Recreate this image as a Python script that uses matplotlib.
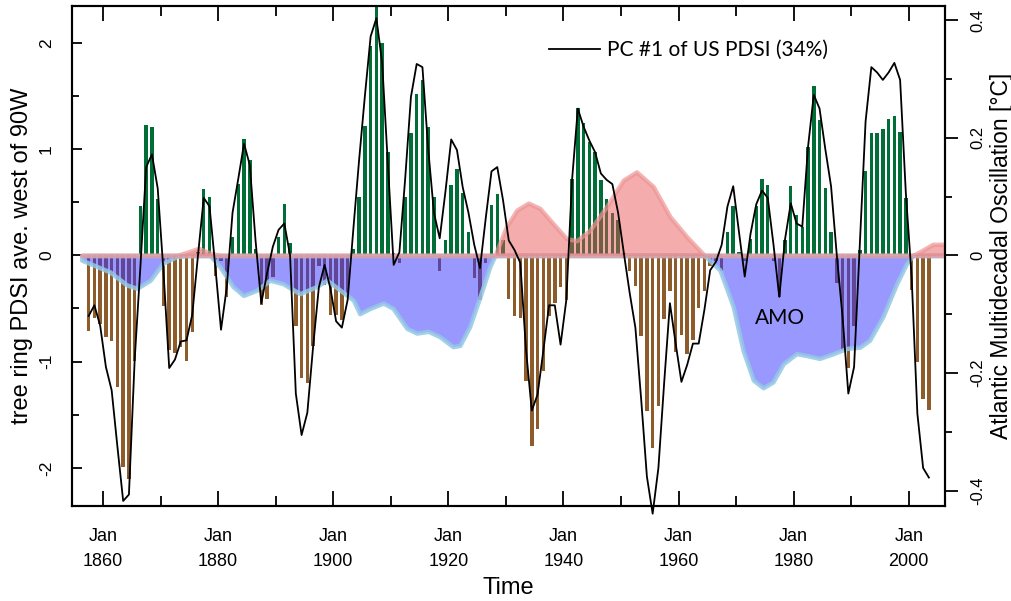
import numpy as np
import matplotlib
matplotlib.use("Agg")
import matplotlib.pyplot as plt

# Annual tree-ring PDSI (bars) and PC #1 of US PDSI (line), 1857-2003
years = np.arange(1857, 2004)
pdsi = np.array([
    -0.71, -0.59, -0.65, -0.77, -0.81, -1.24, -1.99, -2.10, -0.99, 0.46,   # 1857-1866
    1.23, 1.21, 0.53, -0.48, -0.89, -0.92, -0.86, -0.99, -0.72, 0.03,      # 1867-1876
    0.62, 0.55, -0.19, -0.05, -0.39, 0.17, 0.67, 1.09, 0.90, 0.06,         # 1877-1886
    -0.47, -0.41, -0.20, 0.17, 0.48, 0.12, -0.66, -1.15, -1.20, -0.85,     # 1887-1896
    -0.10, -0.28, -0.56, -0.56, -0.61, -0.39, 0.06, 0.55, 1.22, 1.97,      # 1897-1906
    2.40, 2.00, 0.97, 0.02, -0.07, 0.55, 1.15, 1.52, 1.65, 1.21,           # 1907-1916
    0.55, -0.15, 0.14, 0.66, 0.81, 0.59, 0.22, -0.21, -0.42, -0.07,        # 1917-1926
    0.47, 0.58, 0.14, -0.41, -0.57, -0.59, -1.18, -1.79, -1.63, -1.09,     # 1927-1936
    -0.57, -0.45, -0.30, -0.42, 0.72, 1.39, 1.24, 1.07, 0.97, 0.71,        # 1937-1946
    0.53, 0.40, 0.33, 0.02, -0.15, -0.29, -0.76, -1.46, -1.81, -1.42,      # 1947-1956
    -0.60, -0.34, -0.91, -0.75, -0.93, -0.80, -0.50, -0.34, -0.10, -0.05,  # 1957-1966
    -0.15, 0.22, 0.46, 0.03, -0.05, 0.15, 0.46, 0.72, 0.66, -0.05,         # 1967-1976
    -0.39, 0.14, 0.65, 0.38, 0.27, 1.02, 1.59, 1.27, 0.63, 0.22,           # 1977-1986
    -0.26, -0.89, -1.06, -0.66, 0.05, 0.79, 1.15, 1.15, 1.19, 1.28,        # 1987-1996
    1.31, 1.16, 0.54, -0.33, -1.00, -1.35, -1.45,                          # 1997-2003
])
pc1 = np.array([
    -0.57, -0.47, -0.66, -1.05, -1.27, -1.80, -2.31, -2.25, -0.98, -0.10,
    0.83, 0.95, 0.63, -0.15, -1.06, -0.98, -0.81, -0.80, -0.56, 0.00,
    0.54, 0.46, -0.10, -0.70, -0.30, 0.40, 0.72, 1.05, 0.85, 0.14,
    -0.45, -0.17, 0.08, 0.24, 0.30, 0.00, -1.30, -1.69, -1.48, -0.86,
    -0.30, -0.09, -0.31, -0.62, -0.68, -0.42, 0.25, 0.90, 1.50, 2.06,
    2.23, 1.81, 0.85, -0.09, 0.03, 0.72, 1.49, 1.80, 1.77, 1.00,
    0.40, 0.16, 0.60, 1.09, 0.99, 0.64, 0.40, 0.10, -0.12, 0.35,
    0.79, 0.83, 0.52, 0.14, 0.05, -0.07, -0.89, -1.46, -1.31, -0.90,
    -0.47, -0.47, -0.84, -0.42, 0.71, 1.38, 1.21, 1.08, 0.97, 0.77,
    0.71, 0.67, 0.40, 0.02, -0.35, -0.68, -1.35, -2.08, -2.43, -2.00,
    -1.20, -0.45, -0.83, -1.19, -1.03, -0.83, -0.83, -0.51, -0.14, -0.06,
    0.10, 0.46, 0.65, 0.22, -0.20, 0.20, 0.48, 0.61, 0.54, 0.10,
    -0.39, 0.15, 0.49, 0.30, 0.27, 1.02, 1.51, 1.38, 1.00, 0.65,
    0.00, -0.58, -1.30, -1.05, 0.10, 1.26, 1.77, 1.72, 1.65, 1.72,
    1.81, 1.65, 0.58, -0.20, -1.49, -2.00, -2.09,
])

# smoothed AMO (deg C)
amo_years = np.array([
    1856.3, 1861.2, 1864.1, 1865.9, 1868.2, 1870.4, 1872.8, 1874.5, 1876.6, 1878.6,
    1880.3, 1882.6, 1884.4, 1886.7, 1889.0, 1891.3, 1894.2, 1897.1, 1898.9, 1901.2,
    1903.5, 1904.6, 1906.4, 1908.7, 1910.4, 1912.8, 1914.5, 1916.5, 1918.5, 1920.8,
    1922.0, 1923.7, 1925.5, 1927.2, 1928.1, 1930.1, 1931.9, 1933.9, 1935.9, 1938.2,
    1940.5, 1942.3, 1944.6, 1947.5, 1950.4, 1952.7, 1955.6, 1958.5, 1961.4, 1964.5,
    1967.2, 1969.5, 1971.2, 1973.0, 1974.7, 1976.4, 1978.2, 1980.5, 1982.2, 1984.5,
    1986.9, 1989.2, 1991.5, 1993.2, 1995.5, 1997.9, 1999.6, 2000.7, 2001.9, 2004.2,
    2006.3,
])
amo = np.array([
    -0.008, -0.028, -0.050, -0.056, -0.042, -0.013, -0.002, 0.005, 0.012, 0.004,
    -0.019, -0.053, -0.068, -0.059, -0.042, -0.048, -0.065, -0.053, -0.042, -0.059,
    -0.076, -0.099, -0.090, -0.081, -0.090, -0.124, -0.132, -0.129, -0.138, -0.155,
    -0.153, -0.121, -0.070, -0.019, 0.000, 0.049, 0.077, 0.089, 0.080, 0.054,
    0.029, 0.025, 0.043, 0.083, 0.128, 0.142, 0.117, 0.066, 0.032, 0.000,
    -0.025, -0.087, -0.161, -0.212, -0.225, -0.215, -0.184, -0.167, -0.170, -0.175,
    -0.167, -0.158, -0.156, -0.144, -0.104, -0.048, -0.014, 0.000, 0.006, 0.019,
    0.019,
])

major_years = np.arange(1860, 2001, 20)
minor_years = np.arange(1870, 2001, 20)
left_ticks = [-2, -1, 0, 1, 2]
right_ticks = [-0.4, -0.2, 0, 0.2, 0.4]
right_labels = ["-0.4", "-0.2", "0", "0.2", "0.4"]

green = "#006e36"
brown = "#8e5b2b"
sans = ["Liberation Sans", "DejaVu Sans"]
myriad = ["Lato", "DejaVu Sans"]

fig = plt.figure(figsize=(10.12, 6.01), dpi=100)
ax = fig.add_axes([0.0711, 0.158, 0.8627, 0.832])

mid = years + 0.5
ax.bar(mid, pdsi, width=0.6, color=np.where(pdsi >= 0, green, brown), linewidth=0)

ax.set_xlim(1854.6, 2006.3)
ax.set_ylim(-2.358, 2.345)

ax2 = ax.twinx()
ax2.set_ylim(-0.426, 0.424)
ax2.fill_between(amo_years, np.minimum(amo, 0), 0, facecolor=(0.2, 0.2, 1.0, 0.5),
                 edgecolor=(0.58, 0.78, 0.9, 0.85), linewidth=3.2)
ax2.fill_between(amo_years, 0, np.maximum(amo, 0), facecolor=(0.92, 0.32, 0.32, 0.48),
                 edgecolor=(0.93, 0.58, 0.58, 0.7), linewidth=3.2)
ax2.plot(mid, pc1, transform=ax.transData, color="black", lw=1.3, clip_on=False,
         label="PC #1 of US PDSI (34%)")
ax2.text(1977.6, -0.107, "AMO", ha="center", va="center", fontsize=15, family=myriad)

leg = ax2.legend(loc="center left", bbox_to_anchor=(549 / 1012, 1 - 50 / 601),
                 bbox_transform=fig.transFigure, frameon=False, borderpad=0,
                 borderaxespad=0, handlelength=2.45, handletextpad=0.34,
                 prop={"family": myriad, "size": 15})

# x axis
ax.set_xticks(major_years)
ax.set_xticklabels([f"Jan\n{y}" for y in major_years], family=sans, fontsize=13,
                   linespacing=1.6)
ax.set_xticks(minor_years, minor=True)
ax.tick_params(axis="x", which="both", direction="in", top=True, bottom=True,
               width=1.3, pad=16)
ax.tick_params(axis="x", which="major", length=11)
ax.tick_params(axis="x", which="minor", length=7)
ax.set_xlabel("Time", family=sans, fontsize=17, labelpad=5)

# left axis
ax.set_yticks(left_ticks)
ax.set_yticklabels([str(v) for v in left_ticks], family=sans, fontsize=12.5,
                   rotation=90, va="center")
ax.set_yticks([-1.5, -0.5, 0.5, 1.5], minor=True)
ax.tick_params(axis="y", which="both", direction="in", width=1.3, pad=13)
ax.tick_params(axis="y", which="major", length=7.5)
ax.tick_params(axis="y", which="minor", length=5)
ax.set_ylabel("tree ring PDSI ave. west of 90W", family=sans, fontsize=17, labelpad=4)

# right axis
ax2.set_yticks(right_ticks)
ax2.set_yticklabels(right_labels, family=sans, fontsize=12, rotation=90, va="center")
ax2.set_yticks([-0.3, -0.1, 0.1, 0.3], minor=True)
ax2.tick_params(axis="y", which="both", direction="out", width=1.3, pad=9)
ax2.tick_params(axis="y", which="major", length=9.5)
ax2.tick_params(axis="y", which="minor", length=5)
ax2.set_ylabel("Atlantic Multidecadal Oscillation [\u00b0C]", family=sans, fontsize=16.5,
               labelpad=3)

for a in (ax, ax2):
    for s in a.spines.values():
        s.set_linewidth(1.5)

fig.savefig("out.png", dpi=100)
